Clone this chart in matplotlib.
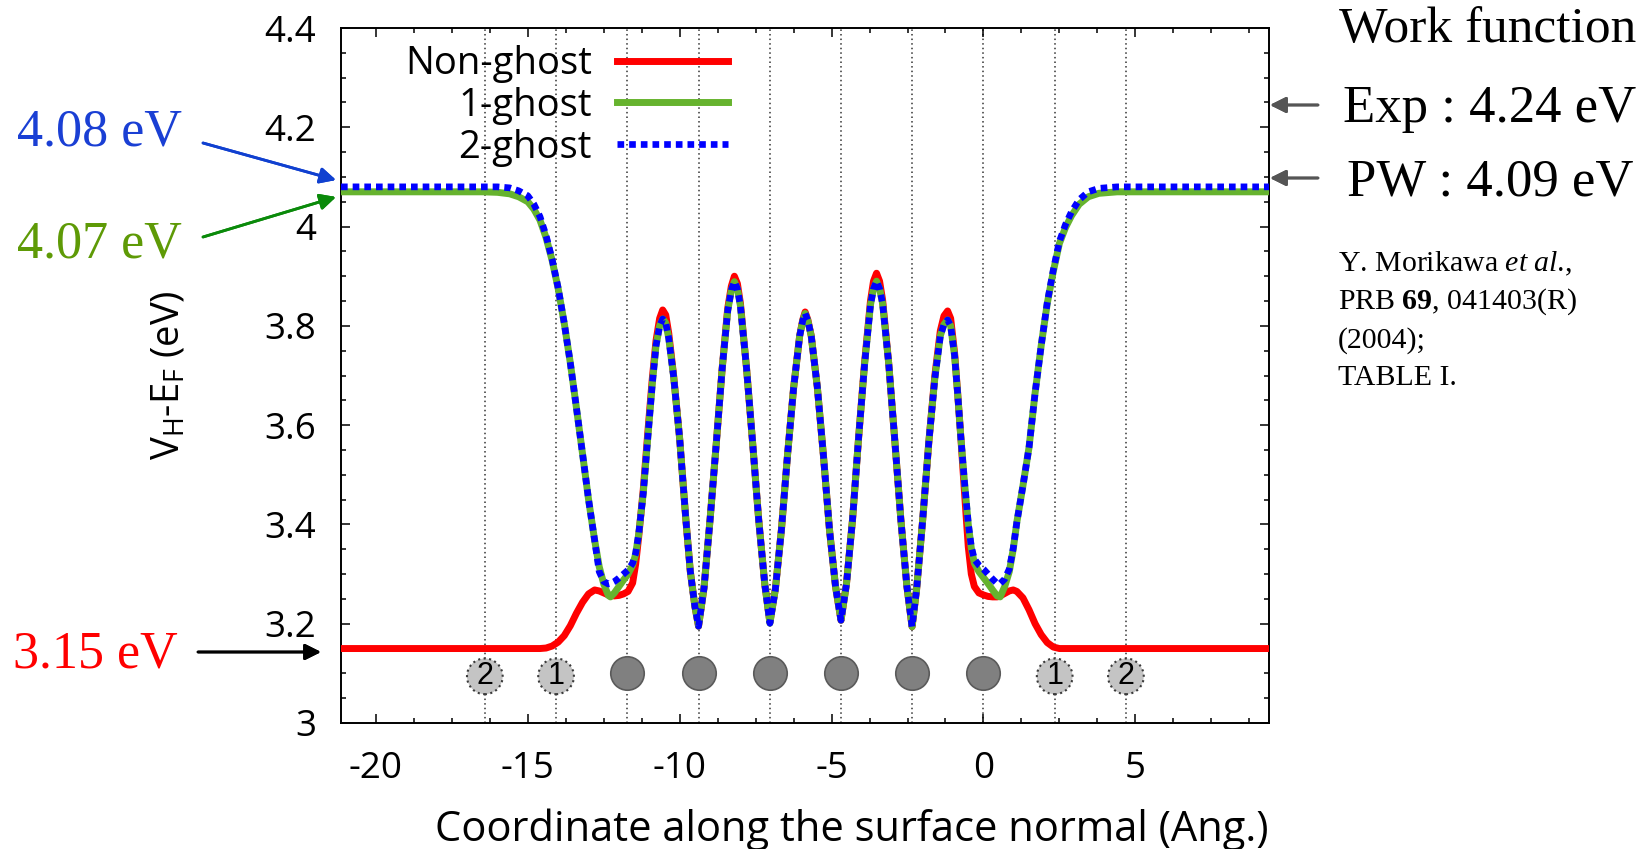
import matplotlib
matplotlib.use("Agg")
import matplotlib.pyplot as plt
from matplotlib.ticker import MultipleLocator

plt.rcParams['font.family'] = ['Open Sans', 'DejaVu Sans']
plt.rcParams['mathtext.fontset'] = 'custom'
plt.rcParams['mathtext.rm'] = 'Liberation Serif'
plt.rcParams['mathtext.it'] = 'Liberation Serif:italic'
plt.rcParams['mathtext.bf'] = 'Liberation Serif:bold'

# coordinate along surface normal (Ang.)
x_pos = [-21.15, -18.00, -16.50, -16.00, -15.60, -15.30, -15.00, -14.80, -14.60, -14.40,
         -14.20, -14.00, -13.80, -13.60, -13.40, -13.20, -13.00, -12.80, -12.65, -12.50,
         -12.35, -12.28, -12.15, -12.00, -11.85, -11.70, -11.55, -11.45, -11.35, -11.20,
         -11.05, -10.90, -10.78, -10.66, -10.56, -10.46, -10.36, -10.20, -10.00, -9.80,
         -9.65, -9.50, -9.38, -9.20, -9.00, -8.80, -8.60, -8.42, -8.30, -8.20,
         -8.10, -8.00, -7.80, -7.60, -7.40, -7.20, -7.03, -6.85, -6.65, -6.45,
         -6.25, -6.05, -5.95, -5.87, -5.78, -5.67, -5.47, -5.27, -5.07, -4.87,
         -4.69, -4.51, -4.31, -4.11, -3.91, -3.72, -3.62, -3.52, -3.42, -3.32,
         -3.12, -2.92, -2.72, -2.52, -2.35, -2.20, -2.00, -1.80, -1.60, -1.42,
         -1.30, -1.18, -1.08, -0.95, -0.85, -0.75, -0.63, -0.50, -0.40, -0.30,
         -0.15, 0.00, 0.15, 0.30, 0.45, 0.55, 0.70, 0.85, 0.98, 1.10,
         1.30, 1.50, 1.70, 1.90, 2.10, 2.30, 2.50, 2.70, 2.90, 3.15,
         3.45, 3.80, 4.40, 6.00, 9.40]

# V_H - E_F (eV)
v_non = [3.150, 3.150, 3.150, 3.150, 3.150, 3.150, 3.150, 3.150, 3.150, 3.151,
         3.155, 3.163, 3.176, 3.196, 3.221, 3.243, 3.260, 3.268, 3.266, 3.262,
         3.258, 3.257, 3.256, 3.257, 3.260, 3.265, 3.282, 3.320, 3.375, 3.470,
         3.585, 3.695, 3.770, 3.815, 3.832, 3.822, 3.785, 3.700, 3.572, 3.412,
         3.305, 3.235, 3.195, 3.272, 3.410, 3.560, 3.715, 3.835, 3.880, 3.900,
         3.885, 3.845, 3.715, 3.565, 3.410, 3.280, 3.203, 3.270, 3.390, 3.540,
         3.675, 3.780, 3.812, 3.828, 3.812, 3.780, 3.677, 3.540, 3.390, 3.275,
         3.207, 3.280, 3.410, 3.575, 3.728, 3.850, 3.890, 3.906, 3.890, 3.852,
         3.725, 3.570, 3.410, 3.275, 3.194, 3.270, 3.410, 3.565, 3.700, 3.790,
         3.820, 3.830, 3.815, 3.745, 3.665, 3.580, 3.470, 3.355, 3.300, 3.275,
         3.262, 3.258, 3.255, 3.254, 3.254, 3.256, 3.261, 3.266, 3.268, 3.265,
         3.252, 3.228, 3.200, 3.178, 3.162, 3.153, 3.150, 3.150, 3.150, 3.150,
         3.150, 3.150, 3.150, 3.150, 3.150]

v_one = [4.070, 4.070, 4.070, 4.069, 4.066, 4.060, 4.050, 4.035, 4.013, 3.978,
         3.932, 3.875, 3.805, 3.725, 3.635, 3.543, 3.450, 3.368, 3.315, 3.280,
         3.257, 3.254, 3.262, 3.275, 3.288, 3.300, 3.318, 3.340, 3.380, 3.463,
         3.575, 3.685, 3.760, 3.800, 3.814, 3.806, 3.775, 3.698, 3.572, 3.412,
         3.305, 3.235, 3.195, 3.272, 3.410, 3.560, 3.715, 3.830, 3.872, 3.889,
         3.875, 3.840, 3.715, 3.565, 3.410, 3.280, 3.201, 3.270, 3.390, 3.540,
         3.675, 3.780, 3.810, 3.825, 3.810, 3.780, 3.677, 3.540, 3.390, 3.275,
         3.207, 3.280, 3.410, 3.575, 3.725, 3.842, 3.875, 3.890, 3.875, 3.845,
         3.725, 3.570, 3.410, 3.275, 3.194, 3.270, 3.410, 3.565, 3.695, 3.780,
         3.803, 3.812, 3.800, 3.740, 3.664, 3.580, 3.489, 3.400, 3.352, 3.322,
         3.305, 3.293, 3.281, 3.268, 3.256, 3.254, 3.275, 3.305, 3.350, 3.405,
         3.478, 3.555, 3.665, 3.760, 3.845, 3.910, 3.966, 3.998, 4.022, 4.045,
         4.060, 4.067, 4.070, 4.070, 4.070]

v_two = [4.080, 4.080, 4.080, 4.080, 4.078, 4.072, 4.062, 4.045, 4.020, 3.982,
         3.934, 3.876, 3.805, 3.725, 3.635, 3.543, 3.450, 3.368, 3.305, 3.285,
         3.280, 3.281, 3.285, 3.292, 3.300, 3.308, 3.322, 3.342, 3.380, 3.463,
         3.575, 3.685, 3.760, 3.800, 3.814, 3.806, 3.775, 3.698, 3.572, 3.412,
         3.305, 3.235, 3.195, 3.272, 3.410, 3.560, 3.715, 3.830, 3.872, 3.889,
         3.875, 3.840, 3.715, 3.565, 3.410, 3.280, 3.201, 3.270, 3.390, 3.540,
         3.675, 3.780, 3.810, 3.825, 3.810, 3.780, 3.677, 3.540, 3.390, 3.275,
         3.207, 3.280, 3.410, 3.575, 3.725, 3.842, 3.875, 3.890, 3.875, 3.845,
         3.725, 3.570, 3.410, 3.275, 3.194, 3.270, 3.410, 3.565, 3.695, 3.780,
         3.803, 3.812, 3.800, 3.740, 3.664, 3.580, 3.489, 3.402, 3.355, 3.330,
         3.318, 3.310, 3.300, 3.290, 3.281, 3.281, 3.290, 3.310, 3.352, 3.405,
         3.478, 3.555, 3.665, 3.760, 3.847, 3.913, 3.970, 4.004, 4.030, 4.054,
         4.070, 4.077, 4.080, 4.080, 4.080]

# atomic layers and ghost layers
atom_x = [-11.725, -9.38, -7.035, -4.69, -2.345, 0.0]
atom_y = [3.10, 3.10, 3.10, 3.10, 3.10, 3.10]
ghost_x = [-16.415, -14.07, 2.345, 4.69]
ghost_y = [3.094, 3.094, 3.094, 3.094]
ghost_lbl = ['2', '1', '1', '2']

xticks = [-20, -15, -10, -5, 0, 5]
xtick_lbl = ['-20', '-15', '-10', '-5', '0', '5']
yticks = [3.0, 3.2, 3.4, 3.6, 3.8, 4.0, 4.2, 4.4]
ytick_lbl = ['3', '3.2', '3.4', '3.6', '3.8', '4', '4.2', '4.4']

W, H = 1643, 849


def fp(x, y):
    # pixel (from top-left) -> figure fraction
    return (x / W, 1 - y / H)


fig = plt.figure(figsize=(W / 100, H / 100), dpi=100, facecolor='white')
ax = fig.add_axes([341 / W, 1 - 723 / H, (1269 - 341) / W, (723 - 28) / H])

for xv in atom_x + ghost_x:
    ax.axvline(xv, color='#333333', lw=1.1, ls=(0, (1, 2)), zorder=1)

ax.plot(x_pos, v_non, color='#ff0000', lw=5, label='Non-ghost', zorder=3)
ax.plot(x_pos, v_one, color='#66b32e', lw=5, label='1-ghost', zorder=4)
ax.plot(x_pos, v_two, color='#0000ff', lw=4.8, ls=(0, (1.0, 0.75)),
        dash_capstyle='butt', label='2-ghost', zorder=5)

ax.scatter(atom_x, atom_y, s=580, color='#808080', edgecolors='#5a5a5a',
           linewidths=1.2, zorder=6, clip_on=False)
ax.scatter(ghost_x, ghost_y, s=660, color='#c4c4c4', edgecolors='#3a3a3a',
           linewidths=1.5, linestyles=':', zorder=6, clip_on=False)
for gx, gy, gl in zip(ghost_x, ghost_y, ghost_lbl):
    ax.text(gx, gy, gl, ha='center', va='center', fontsize=22,
            family='Liberation Sans', zorder=7)

ax.set_xlim(-21.15, 9.4)
ax.set_ylim(3.0, 4.4)
ax.set_xticks(xticks)
ax.set_xticklabels(xtick_lbl)
ax.set_yticks(yticks)
ax.set_yticklabels(ytick_lbl)
ax.xaxis.set_minor_locator(MultipleLocator(1.25))
ax.yaxis.set_minor_locator(MultipleLocator(0.05))
ax.tick_params(which='both', direction='in', top=True, right=True, width=1.1)
ax.tick_params(which='major', length=6.5, labelsize=26.5)
ax.tick_params(which='minor', length=3.6)
ax.tick_params(axis='x', which='major', pad=20)
ax.tick_params(axis='y', which='major', pad=18)
for sp in ax.spines.values():
    sp.set_linewidth(1.4)

ax.set_xlabel('Coordinate along the surface normal (Ang.)', fontsize=30)
ax.xaxis.set_label_coords(0.55, -0.123)
ax.set_ylabel(r'V$_\mathregular{H}$-E$_\mathregular{F}$ (eV)', fontsize=27.5)
ax.yaxis.set_label_coords(-0.165, 0.5)

ax.legend(loc='upper right', bbox_to_anchor=fp(728, 45), bbox_transform=fig.transFigure,
          frameon=False, fontsize=27.5, markerfirst=False, handlelength=2.9,
          handletextpad=0.66, labelspacing=0.1, borderpad=0, borderaxespad=0)

# left-hand value labels
serif = 'Liberation Serif'
fig.text(*fp(17, 145), '4.08 eV', color='#1a3fd4', fontsize=37.5, family=serif, va='baseline')
fig.text(*fp(17, 258), '4.07 eV', color='#5e9a06', fontsize=37.5, family=serif, va='baseline')
fig.text(*fp(13, 668), '3.15 eV', color='#ff0000', fontsize=37.5, family=serif, va='baseline')

arrow_kw = dict(arrowstyle='-|>', mutation_scale=24, shrinkA=0, shrinkB=0)
fig.add_artist(plt.annotate('', xy=fp(336, 180), xytext=fp(203, 143), xycoords='figure fraction',
                            arrowprops=dict(color='#1040d0', lw=2.0, **arrow_kw)))
fig.add_artist(plt.annotate('', xy=fp(336, 197), xytext=fp(203, 237), xycoords='figure fraction',
                            arrowprops=dict(color='#0a8a0a', lw=2.0, **arrow_kw)))
fig.add_artist(plt.annotate('', xy=fp(321, 652), xytext=fp(198, 652), xycoords='figure fraction',
                            arrowprops=dict(color='black', lw=2.0, **arrow_kw)))

# right-hand work function notes
fig.text(*fp(1488, 42), 'Work function', fontsize=37, family=serif, ha='center', va='baseline')
fig.text(*fp(1490, 122), 'Exp : 4.24 eV', fontsize=38, family=serif, ha='center', va='baseline')
fig.text(*fp(1490, 195), 'PW : 4.09 eV', fontsize=38, family=serif, ha='center', va='baseline')
fig.add_artist(plt.annotate('', xy=fp(1270, 105), xytext=fp(1318, 105), xycoords='figure fraction',
                            arrowprops=dict(color='#555555', lw=2.0, **arrow_kw)))
fig.add_artist(plt.annotate('', xy=fp(1270, 178), xytext=fp(1318, 178), xycoords='figure fraction',
                            arrowprops=dict(color='#555555', lw=2.0, **arrow_kw)))

ref_lines = [r'Y. Morikawa $\mathit{et\ al}$.,', r'PRB $\mathbf{69}$, 041403(R)', '(2004);', 'TABLE I.']
ref_base = [271, 309, 348, 385]
for s, yb in zip(ref_lines, ref_base):
    fig.text(*fp(1338, yb), s, fontsize=21.5, family=serif, va='baseline')

fig.savefig('out.png', dpi=100, facecolor='white')
